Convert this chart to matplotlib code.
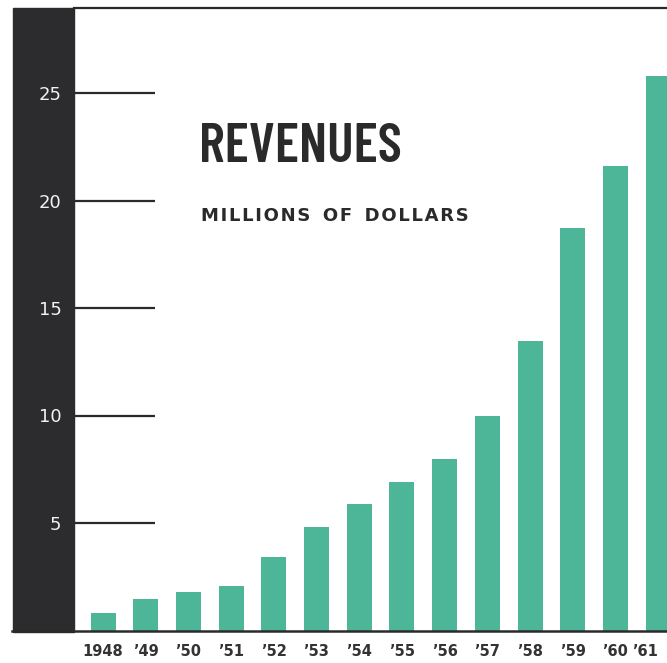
import matplotlib
matplotlib.use("Agg")
from matplotlib import pyplot as plt
from matplotlib.patches import Rectangle
from matplotlib.lines import Line2D

# data (millions of dollars)
years = ["1948", "\u201949", "\u201950", "\u201951", "\u201952", "\u201953", "\u201954",
         "\u201955", "\u201956", "\u201957", "\u201958", "\u201959", "\u201960", "\u201961"]
revenues = [0.8, 1.45, 1.8, 2.05, 3.4, 4.8, 5.9, 6.9, 8.0, 10.0, 13.45, 18.7, 21.6, 25.8]
y_ticks = [5, 10, 15, 20, 25]

W, H = 667, 663
bar_color = "#4db598"
dark = "#2c2b2d"
ink = "#2a2a2a"

fig = plt.figure(figsize=(W / 100, H / 100), dpi=100)
fig.patch.set_facecolor("white")

# axes placed in pixel terms
left_px, right_px = 74, 667
top_px, base_px = 8, 630.5
ax = fig.add_axes([left_px / W, (H - base_px) / H,
                   (right_px - left_px) / W, (base_px - top_px) / H])

step = 42.7
xmin = -(103 - left_px) / step
xmax = xmin + (right_px - left_px) / step
ax.bar(range(len(years)), revenues, width=25 / step, color=bar_color, zorder=2)
ax.set_xlim(xmin, xmax)
ax.set_ylim(0, (base_px - top_px) / 21.5)

for s in ax.spines.values():
    s.set_visible(False)

# short reference lines at the ticks
tr = ax.get_yaxis_transform()
for v in y_ticks:
    ax.plot([0, (155 - left_px) / (right_px - left_px)], [v, v], color=ink,
            lw=1.6, transform=tr, solid_capstyle="butt", zorder=3)

ax.set_yticks(y_ticks)
ax.set_yticklabels([str(v) for v in y_ticks], color="#f2f2f2", fontsize=13)
ax.tick_params(axis="y", length=0, pad=9)
ax.set_xticks(range(len(years)))
ax.set_xticklabels(years, color="#333333", fontsize=10.5, fontweight="bold")
ax.tick_params(axis="x", length=0, pad=10)
# last label sits against the right edge
ax.get_xticklabels()[-1].set_horizontalalignment("right")
ax.get_xticklabels()[-1].set_x(xmax - 0.02)

# dark band on the left, top rule and baseline
fig.patches.append(Rectangle((13 / W, (H - 632) / H), (left_px - 13) / W, (632 - 8) / H,
                             transform=fig.transFigure, color=dark, zorder=0))
ax.set_zorder(1)
ax.patch.set_alpha(0)
fig.lines.append(Line2D([left_px / W, 1], [(H - 8) / H] * 2, transform=fig.transFigure,
                        color=ink, lw=1.6))
fig.lines.append(Line2D([12 / W, 1], [(H - 630.5) / H] * 2, transform=fig.transFigure,
                        color=ink, lw=1.8))

# titles
fig.text(199 / W, (H - 162) / H, "REVENUES", fontsize=40, fontweight=600,
         family=["Barlow Condensed", "DejaVu Sans"], color=ink,
         ha="left", va="baseline")
sub = "  ".join("\u200a".join(w) for w in ["MILLIONS", "OF", "DOLLARS"])
fig.text(201 / W, (H - 221) / H, sub, fontsize=13, fontweight="bold", color=ink,
         ha="left", va="baseline")

fig.savefig("out.png", dpi=100, facecolor="white")
